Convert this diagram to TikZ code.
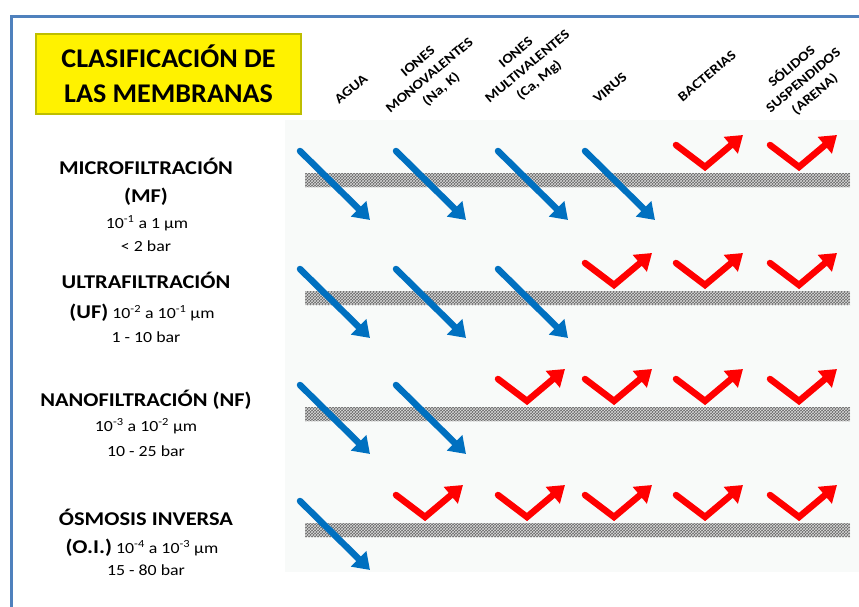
\documentclass[tikz,border=0pt]{standalone}
\usepackage{fontspec}
\setmainfont{Carlito}[FakeStretch=1.15]
\newfontfamily\titlefont{Carlito}[FakeStretch=1.04]
\usetikzlibrary{arrows.meta, patterns}
\definecolor{marcoazul}{RGB}{79,129,189}
\definecolor{pasaazul}{RGB}{0,112,192}
\definecolor{rechazorojo}{RGB}{255,0,0}
\definecolor{fondopanel}{RGB}{248,250,249}
\definecolor{bordetitulo}{RGB}{190,190,0}

\begin{document}
\begin{tikzpicture}[x=1pt, y=-1pt,
  membrana/.style={fill=black!60, postaction={pattern=crosshatch, pattern color=black!15}},
  pasa/.style={draw=pasaazul, line width=6.5pt, line cap=round, -{Triangle[width=21pt,length=16pt]}},
  rechaza/.style={draw=rechazorojo, line width=6.5pt, line cap=round, line join=miter, -{Triangle[width=21pt,length=16pt]}},
  titulo/.style={fill=yellow, draw=bordetitulo, line width=2pt, minimum width=265pt, minimum height=80pt, align=center, font=\titlefont\fontsize{27}{35}\selectfont\bfseries},
  cabecera/.style={font=\fontsize{13.5}{18}\selectfont\bfseries, align=center, rotate=40, inner sep=0pt},
  tipo/.style={font=\fontsize{19.5}{22}\selectfont\bfseries, inner sep=0pt, anchor=base},
  dato/.style={font=\fontsize{15.5}{18}\selectfont, inner sep=0pt, anchor=base}]
  \useasboundingbox (0,0) rectangle (859,607);

  % marco
  \draw[marcoazul, line width=3pt] (11.5,607) -- (11.5,16.5) -- (859,16.5);

  % titulo
  \node[titulo] (titulo) at (168.5,74) {CLASIFICACIÓN DE\\LAS MEMBRANAS};

  % cabeceras de columna
  \node[cabecera] (agua) at (351,89) {AGUA};
  \node[cabecera] (monoval) at (430,76) {IONES\\MONOVALENTES\\(Na, K)};
  \node[cabecera] (multival) at (528,67) {IONES\\MULTIVALENTES\\(Ca, Mg)};
  \node[cabecera] (virus) at (610,88) {VIRUS};
  \node[cabecera] (bacterias) at (707,76) {BACTERIAS};
  \node[cabecera] (solidos) at (803,80) {SÓLIDOS\\SUSPENDIDOS\\(ARENA)};

  % tipos de membrana
  \node[tipo] (mf1) at (146,175) {MICROFILTRACIÓN};
  \node[tipo] (mf2) at (146,202) {(MF)};
  \node[dato] (mf3) at (147,228) {10\textsuperscript{-1} a 1 µm};
  \node[dato] (mf4) at (146,251) {< 2 bar};

  \node[tipo] (uf1) at (146,288) {ULTRAFILTRACIÓN};
  \node[dato] (uf2) at (142,318) {{\bfseries\fontsize{19.5}{22}\selectfont (UF)} 10\textsuperscript{-2} a 10\textsuperscript{-1} µm};
  \node[dato] (uf3) at (146,342) {1 - 10 bar};

  \node[tipo] (nf1) at (146,406) {NANOFILTRACIÓN (NF)};
  \node[dato] (nf2) at (146,431) {10\textsuperscript{-3} a 10\textsuperscript{-2} µm};
  \node[dato] (nf3) at (146,456) {10 - 25 bar};

  \node[tipo] (oi1) at (146,525) {ÓSMOSIS INVERSA};
  \node[dato] (oi2) at (142,553) {{\bfseries\fontsize{19.5}{22}\selectfont (O.I.)} 10\textsuperscript{-4} a 10\textsuperscript{-3} µm};
  \node[dato] (oi3) at (146,575) {15 - 80 bar};

  % panel y membranas
  \fill[fondopanel] (285,120) rectangle (859,572);
  \foreach \m in {173,291,407,523}
    \fill[membrana] (305,\m) rectangle (850,\m+14);

  % lo que atraviesa la membrana
  \foreach \c/\m in {297/173,393/173,495/173,582/173, 297/291,393/291,495/291, 297/407,393/407, 297/523}
    \draw[pasa] (\c+3,\m-22) -- (\c+73,\m+47);

  % lo que queda retenido
  \foreach \c/\m in {673/173,767/173, 582/291,673/291,767/291, 495/407,582/407,673/407,767/407, 393/523,495/523,582/523,673/523,767/523}
    \draw[rechaza] (\c+3,\m-28) -- (\c+32,\m-6) -- (\c+70,\m-38);
\end{tikzpicture}
\end{document}
